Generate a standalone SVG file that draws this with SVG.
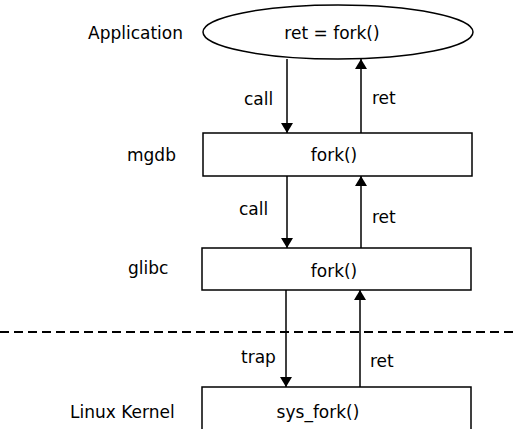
<svg xmlns="http://www.w3.org/2000/svg" width="514" height="429" viewBox="0 0 514 429">
<style>
text{font-family:"DejaVu Sans","Liberation Sans",sans-serif;font-size:17px;fill:#000}
.c{text-anchor:middle}
.box{fill:#fff;stroke:#000;stroke-width:1.5}
.ln{stroke:#000;stroke-width:1.5;fill:none;marker-end:url(#ah)}
</style>
<defs>
<marker id="ah" viewBox="0 0 10 12" refX="10" refY="6" markerWidth="10" markerHeight="12" markerUnits="userSpaceOnUse" orient="auto">
<path d="M0,0 L10,6 L0,12 Z" fill="#000"/>
</marker>
</defs>
<rect width="514" height="429" fill="#fff"/>
<g id="labels">
<text x="88" y="39">Application</text>
<text x="127" y="161">mgdb</text>
<text x="128" y="274">glibc</text>
<text x="70" y="418">Linux Kernel</text>
</g>
<g id="app">
<ellipse class="box" cx="338" cy="32" rx="135" ry="27"/>
<text class="c" x="332" y="39">ret = fork()</text>
</g>
<g id="mgdb">
<rect class="box" x="203" y="133" width="269" height="43"/>
<text class="c" x="334" y="161">fork()</text>
</g>
<g id="glibc">
<rect class="box" x="202" y="248" width="269" height="42"/>
<text class="c" x="334" y="277">fork()</text>
</g>
<g id="kernel">
<rect class="box" x="202" y="387" width="269" height="50"/>
<text class="c" x="318" y="418">sys_fork()</text>
</g>
<g id="connectors">
<line class="ln" x1="287" y1="59" x2="287" y2="133"/>
<line class="ln" x1="361" y1="133" x2="361" y2="59"/>
<line class="ln" x1="287" y1="176" x2="287" y2="248"/>
<line class="ln" x1="361" y1="248" x2="361" y2="176"/>
<line class="ln" x1="286" y1="290" x2="286" y2="387"/>
<line class="ln" x1="360" y1="387" x2="360" y2="290"/>
<line x1="0" y1="332" x2="514" y2="332" stroke="#000" stroke-width="2" stroke-dasharray="9,5"/>
<text x="244" y="105">call</text>
<text x="372" y="104">ret</text>
<text x="239" y="215">call</text>
<text x="372" y="223">ret</text>
<text x="241" y="363">trap</text>
<text x="370" y="367">ret</text>
</g>
</svg>
